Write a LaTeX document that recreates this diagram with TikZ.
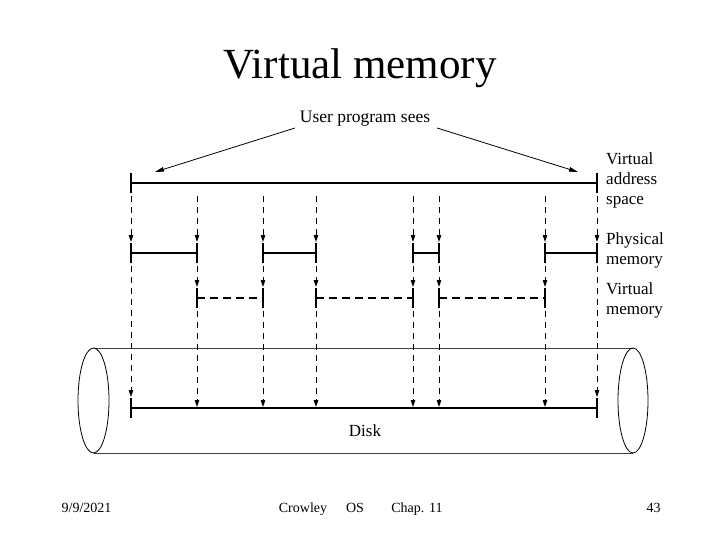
\documentclass[tikz,border=0pt]{standalone}
\usepackage{fontspec}
\setmainfont{Liberation Serif}
\usetikzlibrary{arrows.meta}
\begin{document}
\begin{tikzpicture}[x=1pt,y=-1pt,
  solidseg/.style={line width=1.8pt},
  dashseg/.style={line width=1.6pt, dash pattern=on 8pt off 5pt},
  tickmark/.style={line width=2pt},
  drop/.style={line width=0.8pt, dash pattern=on 6pt off 5pt, -{Triangle[length=7pt,width=4.5pt]}},
  pointer/.style={line width=0.8pt, -{Triangle[length=9pt,width=4.5pt]}},
  lbl/.style={font=\fontsize{17}{20}\selectfont, align=left, anchor=west, inner sep=0pt},
  foot/.style={font=\fontsize{14}{16}\selectfont, inner sep=0pt, anchor=base},
  cyl/.style={line width=0.7pt, black!75}]
\useasboundingbox (0,0) rectangle (720,540);
% title
\node[font=\fontsize{43}{48}\selectfont, inner sep=0pt] (title) at (360,68) {Virtual memory};
\node[font=\fontsize{17.5}{20}\selectfont, inner sep=0pt] (ups) at (365,119) {User program sees};
\coordinate (upsL) at (295,128);
\coordinate (upsR) at (437,128);
\coordinate (vaL) at (155,172);
\coordinate (vaR) at (578,172);
\draw[pointer] (upsL) -- (vaL);
\draw[pointer] (upsR) -- (vaR);
% cylinder
\coordinate (ltop) at (93.5,348);
\coordinate (lbot) at (93.5,453);
\coordinate (rtop) at (633,348);
\coordinate (rbot) at (633,453);
\draw[cyl] (ltop) -- (rtop);
\draw[cyl] (lbot) -- (rbot);
\draw[line width=0.8pt] (93.5,400.5) ellipse [x radius=15.5, y radius=52.5];
\draw[line width=0.8pt] (633,400.5) ellipse [x radius=15, y radius=52.5];
% virtual address space line
\coordinate (va1) at (131,183);
\coordinate (va2) at (597,183);
\draw[solidseg] (va1) -- (va2);
\draw[tickmark] (131,173) -- (131,193);
\draw[tickmark] (597,173) -- (597,193);
% disk line
\coordinate (d1) at (131,408);
\coordinate (d2) at (597,408);
\draw[solidseg] (d1) -- (d2);
\draw[tickmark] (131,398) -- (131,418);
\draw[tickmark] (597,398) -- (597,418);
% physical memory segments
\foreach \a/\b in {131/197,263/316,413/439,545/597}{
  \coordinate (pa\a) at (\a,253);
  \coordinate (pb\b) at (\b,253);
  \draw[solidseg] (pa\a) -- (pb\b);
  \draw[tickmark] (\a,243) -- (\a,263);
  \draw[tickmark] (\b,243) -- (\b,263);
}
% virtual memory (paged out) segments
\foreach \a/\b in {197/263,316/413,439/545}{
  \coordinate (qa\a) at (\a,298);
  \coordinate (qb\b) at (\b,298);
  \draw[dashseg] (qa\a) -- (qb\b);
  \draw[tickmark] (\a,288) -- (\a,308);
  \draw[tickmark] (\b,288) -- (\b,308);
}
% outer columns
\foreach \x in {131,597}{
  \coordinate (c\x a) at (\x,196);
  \coordinate (c\x b) at (\x,242);
  \coordinate (c\x c) at (\x,266);
  \coordinate (c\x d) at (\x,397);
  \draw[drop] (c\x a) -- (c\x b);
  \draw[drop] (c\x c) -- (c\x d);
}
% inner columns
\foreach \x in {197,263,316,413,439,545}{
  \coordinate (c\x a) at (\x,196);
  \coordinate (c\x b) at (\x,242);
  \coordinate (c\x c) at (\x,266);
  \coordinate (c\x d) at (\x,287);
  \coordinate (c\x e) at (\x,311);
  \coordinate (c\x f) at (\x,407);
  \draw[drop] (c\x a) -- (c\x b);
  \draw[drop] (c\x c) -- (c\x d);
  \draw[drop] (c\x e) -- (c\x f);
}
% labels
\node[lbl] (lva) at (606,180) {Virtual\\address\\space};
\node[lbl] (lpm) at (606,250) {Physical\\memory};
\node[lbl] (lvm) at (606,300) {Virtual\\memory};
\node[font=\fontsize{17}{20}\selectfont, inner sep=0pt] (disk) at (365,431) {Disk};
% footer
\node[foot] (date) at (86.5,512) {9/9/2021};
\node[foot] (auth) at (303,512) {Crowley};
\node[foot] (os) at (355,512) {OS};
\node[foot] (chap) at (417,512) {Chap. 11};
\node[foot] (page) at (653.5,512) {43};
\end{tikzpicture}
\end{document}
